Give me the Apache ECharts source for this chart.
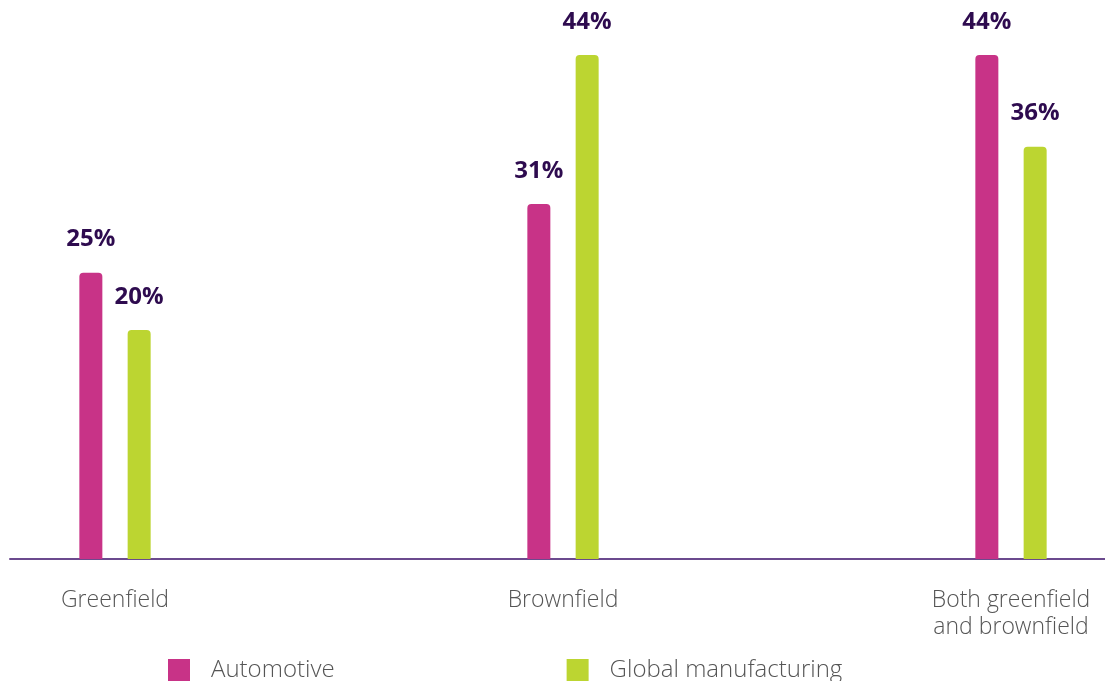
<!DOCTYPE html>
<html>
<head>
<meta charset="utf-8">
<script src="https://cdn.jsdelivr.net/npm/echarts@6/dist/echarts.min.js"></script>
<style>html,body{margin:0;padding:0;background:#fff}#c{width:1105px;height:681px}</style>
</head>
<body>
<div id="c"></div>
<script>
const categories = ['Greenfield', 'Brownfield', 'Both greenfield\nand brownfield'];
const automotive = [25, 31, 44];
const globalManufacturing = [20, 44, 36];
const seriesNames = ['Automotive', 'Global manufacturing'];

const chart = echarts.init(document.getElementById('c'));
const labelStyle = {
  show: true, position: 'top', distance: 21,
  formatter: '{c}%', color: '#2e0b4f', fontSize: 24, fontWeight: 'bold',
  fontFamily: 'Open Sans'
};
chart.setOption({
  animation: false,
  backgroundColor: '#fff',
  legend: {
    left: 168, top: 658, padding: 0, itemWidth: 22, itemHeight: 22, itemGap: 232,
    icon: 'rect',
    textStyle: { color: '#555', fontSize: 24, fontFamily: 'Open Sans', fontWeight: 300, padding: [0, 0, 0, 16] },
    data: seriesNames
  },
  grid: [
    { left: 115, right: 94, top: 55, bottom: 122 },
    { left: 10, right: 0, top: 55, bottom: 122 }
  ],
  xAxis: [
    {
      type: 'category', data: categories, boundaryGap: false, gridIndex: 0,
      axisLine: { show: false }, axisTick: { show: false },
      axisLabel: { color: '#555', fontSize: 23, fontFamily: 'Open Sans', fontWeight: 300, margin: 28, lineHeight: 27 }
    },
    {
      type: 'value', gridIndex: 1, min: 0, max: 1,
      axisLine: { show: true, onZero: false, lineStyle: { color: '#6b4a8e', width: 2 } },
      axisTick: { show: false }, axisLabel: { show: false }, splitLine: { show: false }
    }
  ],
  yAxis: [
    { type: 'value', min: 0, max: 44, gridIndex: 0, show: false },
    { type: 'value', min: 0, max: 1, gridIndex: 1, show: false }
  ],
  series: [
    {
      name: seriesNames[0], type: 'bar', data: automotive, barWidth: 23, barGap: '110%',
      itemStyle: { color: '#c83387', borderRadius: [4, 4, 0, 0] }, label: labelStyle
    },
    {
      name: seriesNames[1], type: 'bar', data: globalManufacturing, barWidth: 23,
      itemStyle: { color: '#bcd531', borderRadius: [4, 4, 0, 0] }, label: labelStyle
    }
  ]
});
</script>
</body>
</html>
